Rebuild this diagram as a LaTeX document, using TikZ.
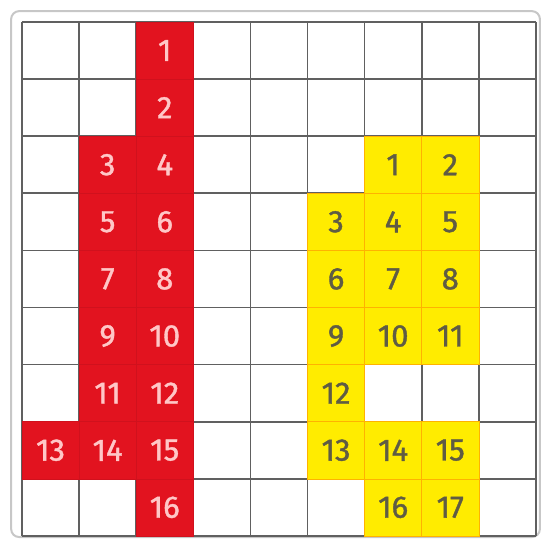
\documentclass[tikz,border=0pt]{standalone}
\usepackage{fontspec}
\setmainfont{Fira Sans}[FakeBold=1.2]
\usepackage{tikz}
\usetikzlibrary{positioning}
\definecolor{cellred}{HTML}{E2131F}
\definecolor{cellyellow}{HTML}{FFEC00}
\definecolor{gridgray}{HTML}{606060}
\tikzstyle{redcell}    = [rectangle, minimum size=1cm, inner sep=0pt, draw=cellred!92!black,
                          line width=0.3pt, fill=cellred, text=red!22!white]
\tikzstyle{yellowcell} = [rectangle, minimum size=1cm, inner sep=0pt, draw=orange!60!yellow,
                          line width=0.3pt, fill=cellyellow, text=black!72!yellow]
\tikzstyle{gridline}   = [gridgray, line width=0.8pt]

\begin{document}
\begin{tikzpicture}[x=1cm, y=-1cm, every node/.style={font=\fontsize{15.5}{15.5}\selectfont}]
  \useasboundingbox (-0.385,-0.385) rectangle (9.124,9.054);

  % Frame
  \draw[black!22, line width=1pt, rounded corners=4pt] (-0.19,-0.19) rectangle (9.07,9.02);

  % Grid
  \foreach \i in {0,...,9} {
    \draw[gridline] (\i,0) -- (\i,9);
    \draw[gridline] (0,\i) -- (9,\i);
  }

  % Red cells
  \node (r1)  [redcell] at (2.5,0.5) {1};
  \node (r2)  [redcell] at (2.5,1.5) {2};
  \node (r3)  [redcell] at (1.5,2.5) {3};
  \node (r4)  [redcell] at (2.5,2.5) {4};
  \node (r5)  [redcell] at (1.5,3.5) {5};
  \node (r6)  [redcell] at (2.5,3.5) {6};
  \node (r7)  [redcell] at (1.5,4.5) {7};
  \node (r8)  [redcell] at (2.5,4.5) {8};
  \node (r9)  [redcell] at (1.5,5.5) {9};
  \node (r10) [redcell] at (2.5,5.5) {10};
  \node (r11) [redcell] at (1.5,6.5) {11};
  \node (r12) [redcell] at (2.5,6.5) {12};
  \node (r13) [redcell] at (0.5,7.5) {13};
  \node (r14) [redcell] at (1.5,7.5) {14};
  \node (r15) [redcell] at (2.5,7.5) {15};
  \node (r16) [redcell] at (2.5,8.5) {16};

  % Yellow cells
  \node (y1)  [yellowcell] at (6.5,2.5) {1};
  \node (y2)  [yellowcell] at (7.5,2.5) {2};
  \node (y3)  [yellowcell] at (5.5,3.5) {3};
  \node (y4)  [yellowcell] at (6.5,3.5) {4};
  \node (y5)  [yellowcell] at (7.5,3.5) {5};
  \node (y6)  [yellowcell] at (5.5,4.5) {6};
  \node (y7)  [yellowcell] at (6.5,4.5) {7};
  \node (y8)  [yellowcell] at (7.5,4.5) {8};
  \node (y9)  [yellowcell] at (5.5,5.5) {9};
  \node (y10) [yellowcell] at (6.5,5.5) {10};
  \node (y11) [yellowcell] at (7.5,5.5) {11};
  \node (y12) [yellowcell] at (5.5,6.5) {12};
  \node (y13) [yellowcell] at (5.5,7.5) {13};
  \node (y14) [yellowcell] at (6.5,7.5) {14};
  \node (y15) [yellowcell] at (7.5,7.5) {15};
  \node (y16) [yellowcell] at (6.5,8.5) {16};
  \node (y17) [yellowcell] at (7.5,8.5) {17};

\end{tikzpicture}
\end{document}
